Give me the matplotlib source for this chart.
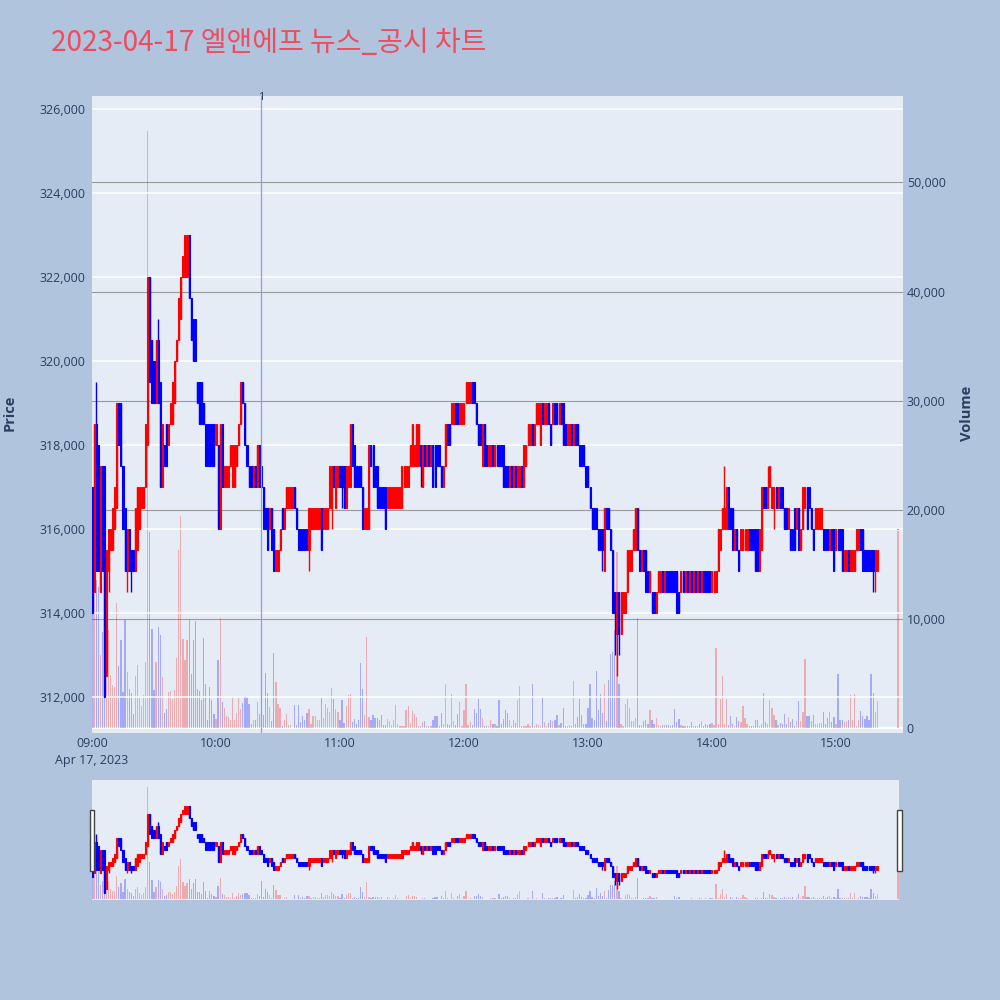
import numpy as np
import matplotlib
matplotlib.use("Agg")
import matplotlib.pyplot as plt
from matplotlib.patches import Rectangle
from matplotlib.ticker import FuncFormatter

# minute bars of 2023-04-17, 09:00 .. 15:20 plus the 15:30 closing auction
minute_offsets = list(range(381)) + [390]

# prices in thousand KRW
open_k = [
    317, 314.5, 318.5, 318, 314.5, 317.5, 317.5, 312.5, 315, 315.5,
    315.5, 316, 316.5, 319, 319, 317.5, 316.5, 315, 316, 315.5,
    315.5, 315, 315.5, 316, 316.5, 316.5, 317, 318, 322, 320.5,
    320, 319, 320.5, 319.5, 317, 318, 318.5, 318, 318.5, 318.5,
    319, 320, 320.5, 321, 322, 322, 322, 323, 321.5, 321,
    321, 319.5, 319.5, 319.5, 319, 318.5, 318.5, 318.5, 318.5, 318.5,
    318, 318, 316, 318.5, 317, 317, 317, 317.5, 317, 317,
    317.5, 318, 318.5, 319.5, 319, 318, 317.5, 317.5, 317, 317.5,
    317, 318, 317.5, 317, 316.5, 316.5, 316, 316.5, 316, 315,
    315, 315.5, 316.5, 316, 316.5, 316.5, 316.5, 316.5, 317, 316.5,
    316, 316, 316, 316, 316, 315.5, 316, 316, 316, 316,
    316, 316.5, 316, 316, 316, 316.5, 316.5, 317.5, 316.5, 317,
    317.5, 317.5, 317.5, 316.5, 317, 317, 318.5, 318, 317.5, 317.5,
    317.5, 317, 316, 316, 316, 318, 318, 317.5, 317.5, 317,
    317, 317, 317, 316.5, 316.5, 316.5, 316.5, 316.5, 316.5, 316.5,
    316.5, 317, 317, 317, 317.5, 317.5, 317.5, 317.5, 317.5, 318,
    317, 318, 317.5, 318, 317.5, 318, 318, 318, 318, 317.5,
    317, 317.5, 318.5, 318.5, 318.5, 318.5, 319, 319, 318.5, 318.5,
    318.5, 319, 319, 319, 319.5, 319.5, 319, 318.5, 318.5, 317.5,
    318.5, 318, 317.5, 317.5, 318, 317.5, 318, 318, 318, 318,
    317.5, 317.5, 317, 317.5, 317, 317.5, 317, 317, 317.5, 317,
    317.5, 318, 318, 318.5, 318, 318.5, 318.5, 318, 319, 318.5,
    318.5, 319, 318.5, 318.5, 319, 319, 318.5, 319, 319, 318.5,
    318, 318, 318.5, 318, 318.5, 318.5, 318, 318, 318, 317.5,
    317.5, 317, 316.5, 316.5, 316.5, 316, 316, 316, 315, 316.5,
    316.5, 316, 315.5, 314.5, 313.5, 314.5, 313.5, 314, 314, 314.5,
    315, 315, 315.5, 315.5, 316.5, 315.5, 315, 315.5, 315.5, 315,
    314.5, 314.5, 314.5, 314, 314.5, 314.5, 315, 314.5, 315, 315,
    315, 315, 315, 315, 314.5, 314.5, 315, 314.5, 315, 314.5,
    315, 314.5, 315, 314.5, 315, 314.5, 315, 315, 315, 315,
    314.5, 314.5, 314.5, 315, 315.5, 316, 316, 316, 317, 316.5,
    316.5, 315.5, 316, 315.5, 315.5, 315.5, 315.5, 315.5, 316, 316,
    316, 316, 316, 315, 315.5, 317, 317, 316.5, 317, 316.5,
    316.5, 317, 316.5, 317, 317, 316.5, 316.5, 316, 316, 316,
    316.5, 316, 316.5, 315.5, 316, 316.5, 317, 317, 316.5, 316,
    316, 316, 316, 316, 316, 316, 316, 315.5, 316, 316,
    315.5, 316, 316, 316, 315, 315, 315.5, 315, 315, 315,
    315.5, 315.5, 316, 316, 315.5, 315.5, 315.5, 315.5, 315.5, 315, 315, 316,
]
close_k = [
    314, 318.5, 315, 315, 317.5, 315, 312, 315.5, 316, 316,
    316.5, 317, 319, 318, 317.5, 316, 315, 316, 315, 315,
    315, 316.5, 317, 317, 317, 317, 318.5, 322, 319.5, 319,
    319, 320.5, 319, 317, 318.5, 317.5, 317.5, 318.5, 319, 319.5,
    320, 320.5, 321.5, 322, 322.5, 323, 323, 321.5, 320.5, 320,
    320, 319, 318.5, 318.5, 318.5, 317.5, 317.5, 317.5, 317.5, 317.5,
    318.5, 316, 318.5, 317, 317.5, 317.5, 317.5, 318, 318, 318,
    318, 318.5, 319.5, 319, 318, 317.5, 317, 317, 317.5, 317,
    318, 317, 317, 316, 316, 315.5, 316.5, 315.5, 315, 315.5,
    315.5, 316, 316, 316.5, 317, 317, 317, 317, 316.5, 316,
    315.5, 315.5, 315.5, 315.5, 315.5, 316.5, 316.5, 316.5, 316.5, 316.5,
    316.5, 315.5, 316.5, 316.5, 316.5, 317.5, 317.5, 317, 317.5, 317.5,
    317, 317, 316.5, 317.5, 317.5, 318.5, 317.5, 317, 317, 317,
    317, 316, 316.5, 316.5, 318, 317.5, 317, 317, 316.5, 316.5,
    316.5, 316.5, 316, 317, 317, 317, 317, 317, 317, 317,
    317.5, 317.5, 317.5, 317.5, 318, 318.5, 318, 318.5, 318.5, 317.5,
    318, 317.5, 318, 317.5, 318, 317, 317, 317.5, 317.5, 317,
    317.5, 318.5, 318, 318, 319, 319, 318.5, 318.5, 319, 319,
    319, 319.5, 319.5, 319.5, 319, 319, 318.5, 318, 318, 318.5,
    317.5, 317.5, 318, 318, 317.5, 318, 317.5, 317.5, 317.5, 317,
    317, 317, 317.5, 317, 317.5, 317, 317.5, 317.5, 317, 318,
    318, 318.5, 318.5, 318, 318.5, 319, 319, 319, 318.5, 319,
    319, 318.5, 318, 319, 318.5, 318.5, 319, 318.5, 318, 318,
    318.5, 318.5, 318, 318.5, 318, 318, 317.5, 317.5, 317.5, 317,
    317, 316.5, 316, 316, 316, 315.5, 315.5, 315.5, 316.5, 316,
    316, 315.5, 314, 314, 314.5, 313.5, 314.5, 314.5, 314.5, 315.5,
    315.5, 315.5, 316, 316.5, 315.5, 315, 315.5, 315, 314.5, 314.5,
    315, 314, 314, 314.5, 315, 315, 314.5, 315, 314.5, 314.5,
    314.5, 314.5, 314.5, 314, 314, 315, 314.5, 315, 314.5, 315,
    314.5, 315, 314.5, 315, 314.5, 315, 314.5, 314.5, 314.5, 314.5,
    315, 315, 315, 316, 316, 316.5, 316.5, 317, 316, 316,
    315.5, 316, 315.5, 315, 316, 316, 316, 316, 315.5, 315.5,
    315.5, 315, 315, 316, 317, 316.5, 316.5, 317, 317.5, 317,
    317, 316.5, 317, 316.5, 316.5, 316, 316, 316.5, 315.5, 315.5,
    315.5, 316.5, 315.5, 316, 317, 317, 316, 316.5, 316, 315.5,
    316.5, 316.5, 316.5, 316.5, 315.5, 315.5, 315.5, 316, 315.5, 315,
    316, 315.5, 315.5, 315, 315.5, 315.5, 315, 315.5, 315.5, 315.5,
    316, 316, 315.5, 315, 315, 315, 315, 315, 315, 315.5, 315.5, 316,
]
# wicks that reach beyond the body (minute offset -> price, thousand KRW)
wick_high = {2: 319.5, 32: 321, 306: 317.5, 327: 317.5}
wick_low = {8: 314.5, 17: 314.5, 19: 314.5, 105: 315, 116: 316, 121: 316.5,
            159: 317, 247: 315, 253: 313, 254: 312.5, 255: 313, 330: 316,
            378: 314.5, 379: 314.5}

volume = [
    10500, 13900, 13600, 13000, 6700, 8800, 10000, 4700, 9000, 4900,
    3950, 3800, 11500, 5700, 8100, 3300, 9960, 5200, 3650, 3250,
    1360, 4800, 5780, 2950, 2030, 3040, 6090, 54700, 17980, 9140,
    3560, 6090, 9290, 8530, 4720, 1420, 1820, 3340, 3400, 2730,
    3560, 6450, 16370, 19500, 8220, 6300, 8070, 9960, 5020, 8070,
    9810, 3650, 3400, 2640, 8280, 4040, 750, 3800, 2640, 1360,
    900, 6240, 10110, 2430, 1910, 1120, 1050, 750, 2950, 750,
    1420, 2790, 1820, 2340, 2950, 2880, 2210, 380, 810, 810,
    2430, 1370, 8670, 1260, 5100, 3270, 1960, 650, 6900, 4300,
    2260, 1900, 200, 800, 1290, 340, 340, 70, 2110, 340,
    2170, 590, 1140, 740, 1410, 1750, 430, 1140, 1140, 800,
    800, 2810, 980, 2200, 1900, 1500, 3700, 2660, 1750, 1500,
    740, 2570, 500, 2020, 3030, 3120, 590, 890, 430, 800,
    5990, 3580, 1200, 8370, 1050, 740, 1260, 980, 980, 740,
    1260, 340, 340, 830, 650, 340, 800, 2170, 430, 250,
    200, 200, 1660, 2020, 500, 1560, 1370, 1050, 200, 200,
    590, 650, 200, 200, 200, 800, 1140, 1140, 200, 1440,
    430, 4030, 430, 340, 3180, 650, 280, 1370, 2420, 200,
    1660, 4030, 340, 590, 340, 1800, 1410, 2660, 1800, 950,
    200, 200, 200, 800, 370, 370, 200, 2570, 370, 830,
    1660, 1410, 740, 200, 800, 500, 2570, 3850, 200, 200,
    200, 370, 200, 4030, 200, 430, 340, 200, 2780, 590,
    200, 500, 740, 650, 800, 1260, 280, 500, 1870, 200,
    200, 280, 200, 4310, 370, 1050, 2660, 1260, 430, 370,
    1900, 4100, 980, 800, 5310, 1720, 3120, 1410, 4030, 650,
    4460, 6840, 7000, 9000, 16200, 4100, 370, 200, 2200, 2660,
    1900, 650, 650, 1000, 10100, 280, 280, 650, 800, 370,
    1720, 800, 370, 980, 340, 200, 340, 340, 340, 340,
    200, 340, 1750, 590, 890, 340, 200, 200, 200, 200,
    590, 200, 200, 200, 430, 680, 200, 430, 280, 370,
    500, 280, 7390, 430, 2660, 4830, 370, 2660, 280, 1110,
    370, 200, 1050, 650, 590, 2020, 950, 370, 200, 200,
    200, 800, 800, 200, 370, 3270, 590, 370, 2570, 1870,
    1260, 800, 280, 500, 370, 1290, 370, 1050, 590, 830,
    200, 650, 2510, 650, 1500, 6380, 1110, 1110, 650, 1200,
    370, 430, 500, 500, 1500, 430, 980, 1500, 590, 1050,
    430, 4950, 740, 740, 590, 650, 740, 3030, 740, 3120,
    200, 740, 1600, 1110, 830, 1110, 740, 5010, 3240, 1500, 2510, 18100,
]

x = np.array(minute_offsets, dtype=float)
opens = np.array(open_k) * 1000
closes = np.array(close_k) * 1000
highs = np.maximum(opens, closes)
lows = np.minimum(opens, closes)
for i, v in wick_high.items():
    highs[i] = v * 1000
for i, v in wick_low.items():
    lows[i] = v * 1000
vols = np.array(volume, dtype=float)
up = closes >= opens
colors = np.where(up, "#FF0000", "#0000FF")

BG = "#B0C4DE"
PLOT_BG = "#E5ECF6"
TXT = "#2a3f5f"
PRICE_LIM = (311150, 326310)
VOL_LIM = (-385, 57920)
X_LIM = (0, 392.3)


def draw_candles(ax):
    ax.vlines(x, lows, highs, colors=colors, lw=1.0, zorder=3)
    ax.bar(x, np.abs(closes - opens), width=0.5, bottom=np.minimum(opens, closes),
           color=colors, edgecolor=colors, lw=0.8, zorder=4)


def draw_volume(ax):
    ax.bar(x, vols, width=0.6, color=colors, alpha=0.28, lw=0, zorder=2)


fig = plt.figure(figsize=(10, 10), dpi=100, facecolor=BG)
fig.text(0.051, 1 - 0.051, "2023-04-17 엘앤에프 뉴스_공시 차트", fontsize=20.2,
         color="#EE4D60", family=["Noto Sans CJK KR", "DejaVu Sans"], va="baseline")

# main chart: volume on the base axes (right ticks), price on the twin (left ticks)
ax_v = fig.add_axes([0.092, 0.2673, 0.8107, 0.6367], facecolor=PLOT_BG)
ax_p = ax_v.twinx()
ax_p.set_facecolor("none")

draw_volume(ax_v)
for lvl in range(10000, 50001, 10000):
    ax_v.axhline(lvl, color="#9a9a9a", lw=0.8, zorder=1)
ax_v.axhline(0, color="white", lw=1.6, zorder=1)
ax_v.set_ylim(*VOL_LIM)
ax_v.set_xlim(*X_LIM)
ax_v.set_yticks(range(0, 50001, 10000))
ax_v.yaxis.set_major_formatter(FuncFormatter(lambda v, p: f"{int(v):,}"))
ax_v.yaxis.tick_right()

ax_p.set_ylim(*PRICE_LIM)
ax_p.set_yticks(range(312000, 326001, 2000))
ax_p.yaxis.set_major_formatter(FuncFormatter(lambda v, p: f"{int(v):,}"))
ax_p.yaxis.tick_left()
ax_p.grid(axis="y", color="white", lw=1.1)
ax_p.set_axisbelow(True)
draw_candles(ax_p)

# news marker at 10:22
ax_p.axvline(82, color="#8DA0DD", lw=0.9, zorder=5)
fig.text(0.2617, 1 - 0.097, "1", fontsize=8, color=TXT, ha="center", va="center",
         family="Open Sans")

ax_v.set_xticks(range(0, 361, 60))
ax_v.set_xticklabels(["09:00\nApr 17, 2023", "10:00", "11:00", "12:00", "13:00",
                      "14:00", "15:00"], linespacing=1.45)
for a in (ax_v, ax_p):
    for s in a.spines.values():
        s.set_visible(False)
    a.tick_params(length=0, labelsize=9, labelcolor=TXT)
    for lab in a.get_xticklabels() + a.get_yticklabels():
        lab.set_family("Open Sans")
ax_v.tick_params(axis="x", pad=3)
ax_v.tick_params(axis="y", pad=3)
ax_p.tick_params(axis="y", pad=5)
for lab in ax_v.get_xticklabels():
    lab.set_verticalalignment("top")

fig.text(0.010, 1 - 0.413, "Price", rotation=90, fontsize=10.5, fontweight="bold",
         color=TXT, ha="center", va="center", family="Open Sans")
fig.text(0.967, 1 - 0.413, "Volume", rotation=90, fontsize=10.5, fontweight="bold",
         color=TXT, ha="center", va="center", family="Open Sans")

# range slider
ax_s = fig.add_axes([0.092, 0.100, 0.807, 0.120], facecolor=PLOT_BG)
ax_s2 = ax_s.twinx()
ax_s2.set_facecolor("none")
draw_volume(ax_s)
ax_s.set_ylim(*VOL_LIM)
ax_s.set_xlim(0, 390.5)
ax_s2.set_ylim(*PRICE_LIM)
draw_candles(ax_s2)
for a in (ax_s, ax_s2):
    a.set_xticks([])
    a.set_yticks([])
    for s in a.spines.values():
        s.set_visible(False)

for hx in (0.0898, 0.8973):
    fig.patches.append(Rectangle((hx, 1 - 0.871), 0.0044, 0.061, transform=fig.transFigure,
                                 facecolor="white", edgecolor="#444444", lw=1.0, zorder=10))

fig.savefig("out.png", dpi=100, facecolor=BG)
